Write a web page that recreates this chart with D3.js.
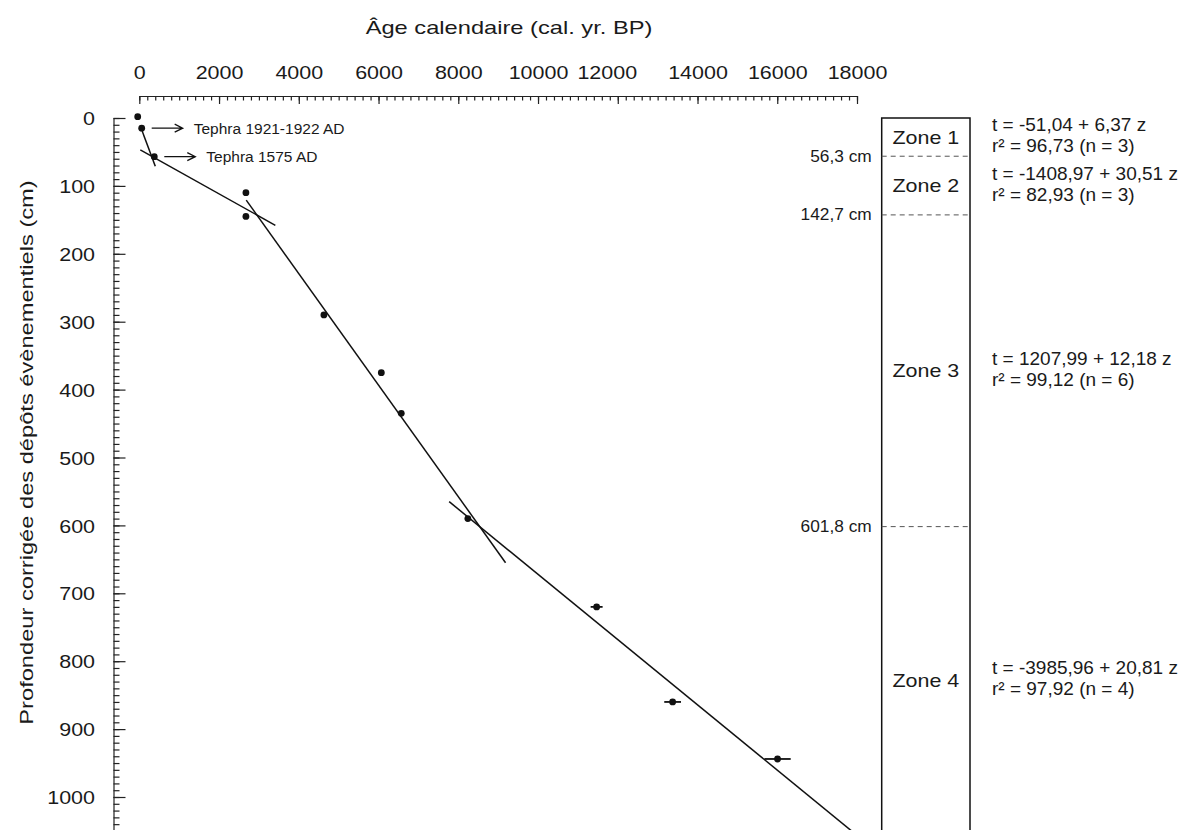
<!DOCTYPE html>
<html lang="fr">
<head>
<meta charset="UTF-8">
<title>Modèle âge-profondeur</title>
<script src="https://d3js.org/d3.v7.min.js"></script>
<style>
    body { margin: 0; background: #ffffff; }
    svg { display: block; }
    text { font-family: "Liberation Sans", Arial, sans-serif; fill: #1a1a1a; }
</style>
</head>
<body>
<svg id="chart"></svg>
<script>
    // dated levels : calendar age (cal. yr. BP) and corrected depth (cm)
    var ages = [-40, 60, 376, 2674, 2674, 4630, 6070, 6570, 8240, 11470, 13376, 16007];
    var depths = [-2, 15, 57, 110, 145, 290, 375, 435, 590, 720, 860, 944];
    var ageErrors = [0, 0, 0, 0, 0, 0, 0, 0, 0, 150, 210, 330];

    // tephra markers (index into the points above)
    var tephraIndex = [1, 2];
    var tephraLabels = ["Tephra 1921-1922 AD", "Tephra 1575 AD"];

    // zones and linear fits  t = a + b z
    var zoneNames = ["Zone 1", "Zone 2", "Zone 3", "Zone 4"];
    var zoneBounds = [0, 56.3, 142.7, 601.8, 1054];
    var fitIntercepts = [-51.04, -1408.97, 1207.99, -3985.96];
    var fitSlopes = [6.37, 30.51, 12.18, 20.81];
    var fitR2 = [96.73, 82.93, 99.12, 97.92];
    var fitN = [3, 3, 6, 4];
    var fitDepthStart = [13, 47, 121, 565];
    var fitDepthEnd = [71, 158, 655, 1060];

    // axis ticks
    var xTicks = [0, 2000, 4000, 6000, 8000, 10000, 12000, 14000, 16000, 18000];
    var yTicks = [0, 100, 200, 300, 400, 500, 600, 700, 800, 900, 1000];

    var width = 1191, height = 830;
    var svg = d3.select("#chart").attr("width", width).attr("height", height);

    var x = d3.scaleLinear().domain([0, 18000]).range([139.3, 857]);
    var y = d3.scaleLinear().domain([0, 1060]).range([118, 118 + 1060 * 0.679]);

    function comma(v, n) {
        return v.toFixed(n).replace(".", ",");
    }

    // stretch text horizontally (the original lettering is wider than Arial)
    function stretch(sel, k) {
        sel.each(function () {
            var w = this.getComputedTextLength();
            d3.select(this).attr("textLength", w * k).attr("lengthAdjust", "spacingAndGlyphs");
        });
    }

    // x axis on top, ticks pointing down
    var xAxisG = svg.append("g").attr("transform", "translate(0,96)").attr("color", "#222");
    xAxisG.append("g")
        .call(d3.axisTop(x).tickValues(d3.range(0, 18001, 200)).tickSize(-4.5).tickFormat(""))
        .call(function (g) { g.select(".domain").remove(); });
    xAxisG.append("g")
        .call(d3.axisTop(x).tickValues(xTicks).tickSize(-8).tickSizeOuter(0).tickPadding(16.7).tickFormat(d3.format("d")));
    xAxisG.selectAll("line, path").attr("stroke-width", 1.2);
    xAxisG.selectAll(".tick text")
        .attr("font-family", "Liberation Sans, Arial, sans-serif")
        .attr("font-size", 19)
        .filter(function (d) { return d === 12000; }).attr("dx", -11);

    // y axis on the left, ticks pointing right
    var yAxisG = svg.append("g").attr("transform", "translate(113.5,0)").attr("color", "#222");
    yAxisG.append("g")
        .call(d3.axisLeft(y).tickValues(d3.range(0, 1061, 10)).tickSize(-6).tickFormat(""))
        .call(function (g) { g.select(".domain").remove(); });
    yAxisG.append("g")
        .call(d3.axisLeft(y).tickValues(yTicks).tickSize(-12).tickSizeOuter(0).tickPadding(18.5).tickFormat(d3.format("d")));
    yAxisG.selectAll("line, path").attr("stroke-width", 1.2);
    yAxisG.selectAll(".tick text")
        .attr("font-family", "Liberation Sans, Arial, sans-serif")
        .attr("font-size", 19)
        .attr("dy", "0.35em");

    // axis titles
    var xTitle = svg.append("text")
        .attr("x", 509).attr("y", 34)
        .attr("text-anchor", "middle").attr("font-size", 19)
        .text("Âge calendaire (cal. yr. BP)");
    var yTitle = svg.append("text")
        .attr("transform", "translate(33,452.5) rotate(-90)")
        .attr("text-anchor", "middle").attr("font-size", 19)
        .text("Profondeur corrigée des dépôts évènementiels (cm)");

    // regression segments
    svg.append("g").selectAll("line")
        .data(zoneNames.map(function (d, i) { return i; }))
        .join("line")
        .attr("x1", function (i) { return x(fitIntercepts[i] + fitSlopes[i] * fitDepthStart[i]); })
        .attr("y1", function (i) { return y(fitDepthStart[i]); })
        .attr("x2", function (i) { return x(fitIntercepts[i] + fitSlopes[i] * fitDepthEnd[i]); })
        .attr("y2", function (i) { return y(fitDepthEnd[i]); })
        .attr("stroke", "#111").attr("stroke-width", 1.5);

    // points with age errors
    var pts = ages.map(function (a, i) { return { age: a, depth: depths[i], err: ageErrors[i] }; });
    svg.append("g").selectAll("line")
        .data(pts.filter(function (d) { return d.err > 0; }))
        .join("line")
        .attr("x1", function (d) { return x(d.age - d.err); })
        .attr("x2", function (d) { return x(d.age + d.err); })
        .attr("y1", function (d) { return y(d.depth); })
        .attr("y2", function (d) { return y(d.depth); })
        .attr("stroke", "#111").attr("stroke-width", 1.8);
    svg.append("g").selectAll("circle")
        .data(pts)
        .join("circle")
        .attr("cx", function (d) { return x(d.age); })
        .attr("cy", function (d) { return y(d.depth); })
        .attr("r", 3.4)
        .attr("fill", "#111");

    // tephra arrows
    var teph = svg.append("g").selectAll("g")
        .data(tephraIndex.map(function (k, i) { return { p: pts[k], label: tephraLabels[i] }; }))
        .join("g")
        .attr("transform", function (d) { return "translate(" + (x(d.p.age) + 10) + "," + y(d.p.depth) + ")"; });
    teph.append("path")
        .attr("d", "M0,0H31M23,-4L31,0L23,4")
        .attr("fill", "none").attr("stroke", "#111").attr("stroke-width", 1.3);
    teph.append("text")
        .attr("x", 42).attr("dy", "0.35em")
        .attr("font-size", 15.5)
        .text(function (d) { return d.label; });

    // zone column
    var colX = 881.7, colW = 88.3;
    svg.append("rect")
        .attr("x", colX).attr("y", y(zoneBounds[0]))
        .attr("width", colW).attr("height", y(zoneBounds[4]) - y(zoneBounds[0]))
        .attr("fill", "none").attr("stroke", "#111").attr("stroke-width", 1.5);

    var inner = zoneBounds.slice(1, 4);
    svg.append("g").selectAll("line")
        .data(inner)
        .join("line")
        .attr("x1", colX).attr("x2", colX + colW)
        .attr("y1", function (d) { return y(d); })
        .attr("y2", function (d) { return y(d); })
        .attr("stroke", "#555").attr("stroke-width", 1).attr("stroke-dasharray", "5,4");
    var boundLabels = svg.append("g").selectAll("text")
        .data(inner)
        .join("text")
        .attr("x", colX - 10).attr("y", function (d) { return y(d); })
        .attr("dy", "0.35em").attr("text-anchor", "end")
        .attr("font-size", 16)
        .text(function (d) { return comma(d, 1) + " cm"; });

    var zoneIdx = zoneNames.map(function (d, i) { return i; });
    function zoneMid(i) { return y((zoneBounds[i] + zoneBounds[i + 1]) / 2); }

    var zoneLabels = svg.append("g").selectAll("text")
        .data(zoneIdx)
        .join("text")
        .attr("x", colX + colW / 2).attr("y", zoneMid)
        .attr("dy", "0.35em").attr("text-anchor", "middle")
        .attr("font-size", 19)
        .text(function (i) { return zoneNames[i]; });

    var eq = svg.append("g").selectAll("text")
        .data(zoneIdx)
        .join("text")
        .attr("x", 992).attr("y", function (i) { return zoneMid(i) - 2; })
        .attr("font-size", 19);
    eq.append("tspan")
        .attr("x", 992).attr("dy", "-0.2em")
        .text(function (i) {
            return "t = " + comma(fitIntercepts[i], 2) + " + " + comma(fitSlopes[i], 2) + " z";
        });
    eq.append("tspan")
        .attr("x", 992).attr("dy", "1.1em")
        .text(function (i) { return "r² = " + comma(fitR2[i], 2) + " (n = " + fitN[i] + ")"; });

    // widen lettering
    stretch(xAxisG.selectAll(".tick text"), 1.13);
    stretch(yAxisG.selectAll(".tick text"), 1.13);
    stretch(xTitle, 1.245);
    stretch(yTitle, 1.245);
    stretch(zoneLabels, 1.13);
    stretch(boundLabels, 1.08);
</script>
</body>
</html>
